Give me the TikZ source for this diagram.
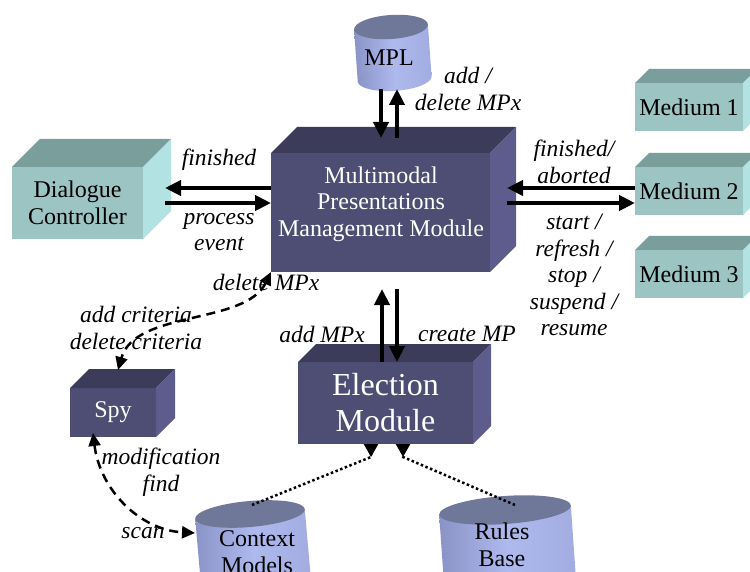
\documentclass[tikz,border=0pt]{standalone}
\usepackage{fontspec}
\setmainfont{Liberation Serif}
\usetikzlibrary{arrows.meta}

\definecolor{tealfront}{HTML}{9BC4C2}
\definecolor{tealtop}{HTML}{7A9E9B}
\definecolor{tealside}{HTML}{B3E2E2}
\definecolor{darkfront}{HTML}{4E4D74}
\definecolor{darktop}{HTML}{3C3B59}
\definecolor{darkside}{HTML}{5D5C8C}
\definecolor{drumdark}{HTML}{8A93C6}
\definecolor{drummid}{HTML}{AEB9EE}
\definecolor{drumlight}{HTML}{A2ACE0}
\definecolor{drumtop}{HTML}{6F7898}

\tikzset{
  face/.style={inner sep=0pt, outer sep=0pt, align=center,
    font=\fontsize{24}{26.5}\selectfont},
  tealface/.style={face, fill=tealfront},
  darkface/.style={face, fill=darkfront, text=white},
  lbl/.style={align=center, inner sep=0pt,
    font=\fontsize{23.5}{26.5}\selectfont\itshape},
  bigarrow/.style={line width=4pt, -{Triangle[length=16pt,width=15pt]}},
  dasharrow/.style={line width=2.5pt, dash pattern=on 9pt off 6pt,
    {Triangle[length=13pt,width=12pt]}-{Triangle[length=13pt,width=12pt]}},
  dotarrow/.style={line width=2.5pt, dash pattern=on 2.5pt off 2.5pt,
    -{Triangle[reversed,length=13pt,width=14pt]}},
  drumbody/.style={left color=drumdark, right color=drumlight, middle color=drummid},
}

% top and right faces of a box whose front face is node #1, depth #2
\newcommand\cuboidfaces[4]{%
  \fill[#3] (#1.north west) -- ++(#2,-#2) -- ([shift={(#2,-#2)}]#1.north east)
    -- (#1.north east) -- cycle;
  \fill[#4] (#1.north east) -- ++(#2,-#2) -- ([shift={(#2,-#2)}]#1.south east)
    -- (#1.south east) -- cycle;}

% cylinder: name, centre of top ellipse, x radius, y radius, height, tilt
\newcommand\drum[6]{%
  \begin{scope}[shift={#2}, rotate=#6]
    \shade[drumbody] (-#3,0) rectangle (#3,#5);
    \shade[drumbody] (0,#5) ellipse [x radius=#3, y radius=#4];
    \fill[drumtop] (0,0) ellipse [x radius=#3, y radius=#4];
    \coordinate (#1top) at (0,0);
  \end{scope}}

\begin{document}
\begin{tikzpicture}[x=1pt, y=-1pt]
  \useasboundingbox (0,0) rectangle (750,572);
  \clip (0,0) rectangle (750,572);

  % data stores
  \drum{mpl}{(391,27)}{37}{12}{52}{4}
  \node[face, minimum width=74pt, minimum height=62pt] (mpl) at (389,58) {MPL};
  \drum{ctx}{(250,514)}{55}{13}{80}{5}
  \node[face] (ctx) at (257,552) {Context\\Models};
  \drum{rb}{(505,510)}{66}{14}{80}{4}
  \node[face] (rb) at (502,545) {Rules\\Base};

  % modules
  \node[tealface, minimum width=131pt, minimum height=72pt] (dc) at (77.5,203)
    {Dialogue\\Controller};
  \cuboidfaces{dc}{28}{tealtop}{tealside}

  \node[darkface, minimum width=219pt, minimum height=119pt] (mmm) at (380.5,212.5) {};
  \cuboidfaces{mmm}{26}{darktop}{darkside}
  \node[face, text=white] (mmmtext) at (381,204)
    {Multimodal\\Presentations\\Management Module};

  \node[tealface, minimum width=108pt, minimum height=48pt] (m1) at (689,107) {Medium 1};
  \cuboidfaces{m1}{14}{tealtop}{tealside}
  \node[tealface, minimum width=108pt, minimum height=48pt] (m2) at (689,191) {Medium 2};
  \cuboidfaces{m2}{14}{tealtop}{tealside}
  \node[tealface, minimum width=108pt, minimum height=48pt] (m3) at (689,274) {Medium 3};
  \cuboidfaces{m3}{14}{tealtop}{tealside}

  \node[darkface, minimum width=86pt, minimum height=49pt] (spy) at (113,412.5) {Spy};
  \cuboidfaces{spy}{19}{darktop}{darkside}

  \node[darkface, minimum width=175pt, minimum height=82pt,
    font=\fontsize{32}{36}\selectfont] (em) at (385.5,403) {Election\\Module};
  \cuboidfaces{em}{18}{darktop}{darkside}

  % solid message arrows
  \draw[bigarrow] ([yshift=24.5pt]mmm.west) -- ([xshift=22pt,yshift=15pt]dc.east);
  \draw[bigarrow] ([xshift=22pt]dc.east) -- ([yshift=9.5pt]mmm.west);
  \draw[bigarrow] ([yshift=3pt]m2.west) -- ([xshift=17pt,yshift=24.5pt]mmm.east);
  \draw[bigarrow] ([xshift=17pt,yshift=9.5pt]mmm.east) -- ([yshift=-12pt]m2.west);
  \draw[bigarrow] ([xshift=-8pt]mpl.south) -- ([xshift=0.5pt,yshift=15pt]mmm.north);
  \draw[bigarrow] ([xshift=16.5pt,yshift=15pt]mmm.north) -- ([xshift=8pt]mpl.south);
  \draw[bigarrow] ([xshift=-3.5pt]em.north) -- ([xshift=1.5pt,yshift=-17pt]mmm.south);
  \draw[bigarrow] ([xshift=16.5pt,yshift=-17pt]mmm.south) -- ([xshift=11.5pt]em.north);

  % dashed links of the spy
  \draw[dasharrow] (mmm.south west) .. controls (245,325) and (135,310)
    .. ([xshift=5pt,yshift=18pt]spy.north);
  \draw[dasharrow] ([xshift=-20pt,yshift=4pt]spy.south) .. controls (100,490) and (140,530)
    .. ([xshift=-55pt,yshift=-19pt]ctxtop);

  % dotted inputs of the election module
  \draw[dotarrow] ([xshift=2pt,yshift=9pt]ctxtop)
    -- ([xshift=-14.5pt,yshift=-13pt]em.south) -- ([xshift=-14.5pt]em.south);
  \draw[dotarrow] ([xshift=10pt,yshift=5pt]rbtop)
    -- ([xshift=17.5pt,yshift=-13pt]em.south) -- ([xshift=17.5pt]em.south);

  % labels
  \node[lbl] (lmpl) at (468,89) {add /\\delete MPx};
  \node[lbl] (lfin) at (219,160) {finished};
  \node[lbl] (lproc) at (219,232) {process\\event};
  \node[lbl] (lfa) at (574,162) {finished/\\aborted};
  \node[lbl] (lstart) at (574,275) {start /\\refresh /\\stop /\\suspend /\\resume};
  \node[lbl] (ldel) at (266,282) {delete MPx};
  \node[lbl] (lcrit) at (136,328) {add criteria\\delete criteria};
  \node[lbl] (ladd) at (322,334) {add MPx};
  \node[lbl] (lcreate) at (467,334) {create MP};
  \node[lbl] (lmod) at (161,472) {modification\\find};
  \node[lbl] (lscan) at (143,533) {scan};
\end{tikzpicture}
\end{document}
